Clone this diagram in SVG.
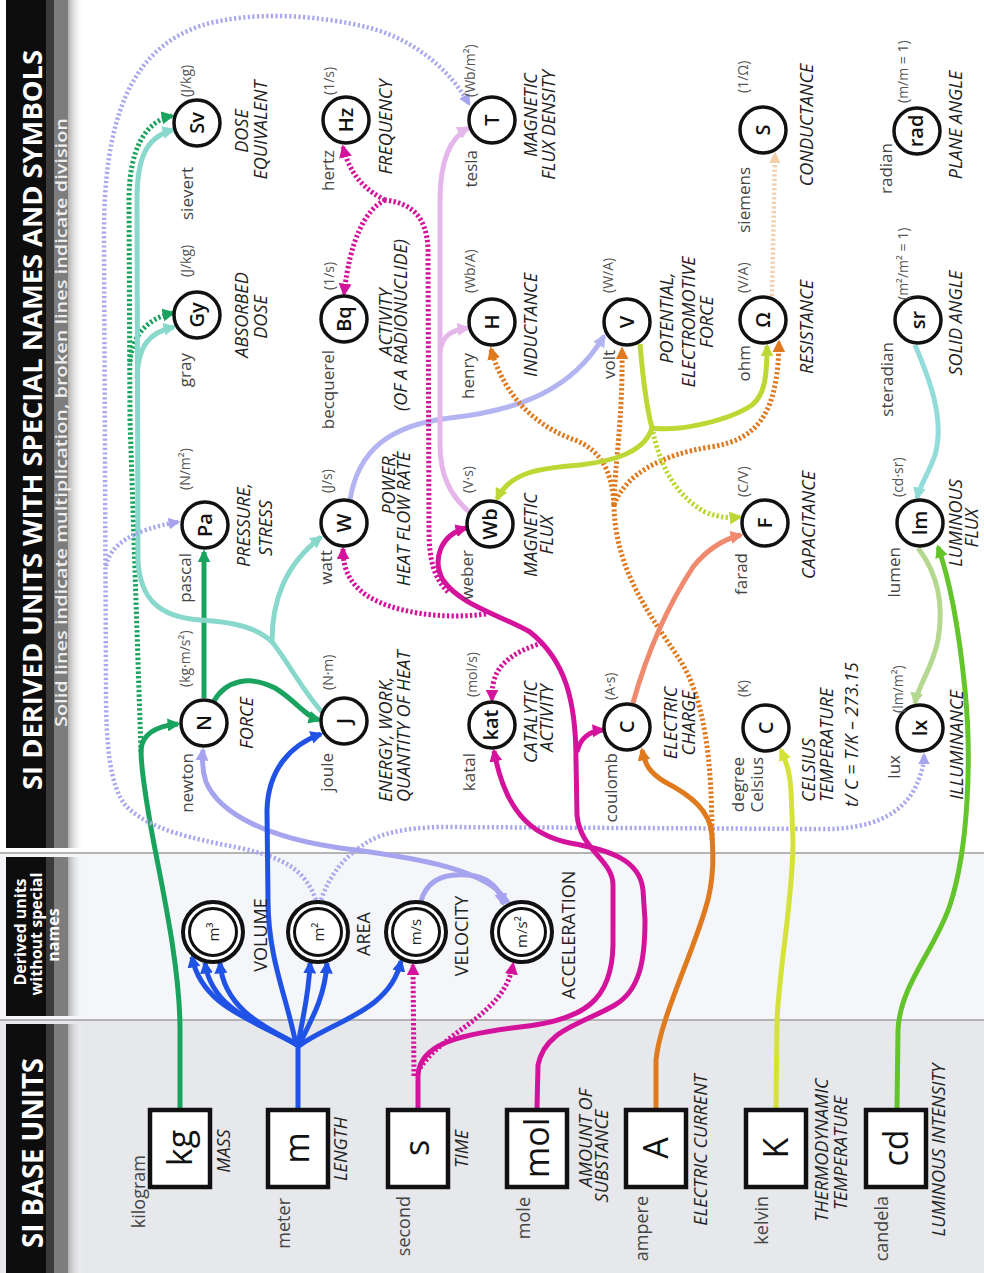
<svg xmlns="http://www.w3.org/2000/svg" width="984" height="1273" viewBox="0 0 984 1273">
<defs>
<style>
text{font-family:'Open Sans','Noto Sans','Liberation Sans',sans-serif}
.nm{font-size:17px;fill:#444;text-anchor:end}
.bn{font-size:18px;fill:#444;text-anchor:end}
.un{font-size:14px;fill:#555}
.q{font-size:18px;font-style:italic;fill:#222;text-anchor:middle}
.qs{font-size:18px;font-style:italic;fill:#222;text-anchor:start}
.qe{font-size:18px;font-style:italic;fill:#222;text-anchor:end}
.dq{font-size:18px;fill:#222;text-anchor:middle}
.sym{font-size:20px;fill:#111;text-anchor:middle;font-weight:600}
.bs{font-size:34px;fill:#111;text-anchor:middle}
.ds{font-size:15px;fill:#222;text-anchor:middle}
.hd{font-weight:700;fill:#fff}
.c{fill:#fff;stroke:#111;stroke-width:3.5}
.c2{fill:#fff;stroke:#111;stroke-width:4}
.c3{fill:none;stroke:#111;stroke-width:3}
.bx{fill:#fff;stroke:#111;stroke-width:4.5}
.ln{fill:none;stroke-width:5}
.dt{fill:none;stroke-width:5;stroke-dasharray:2.4 2.2}
.dl{fill:none;stroke-width:4.5;stroke-dasharray:2.2 2.4}
</style>
<linearGradient id="fade" x1="0" y1="0" x2="1" y2="0">
<stop offset="0" stop-color="#b0b0b0"/><stop offset="1" stop-color="#ffffff" stop-opacity="0"/>
</linearGradient>
<marker id="mg" viewBox="0 0 10 10" refX="8" refY="5" markerWidth="2.6" markerHeight="2.6" orient="auto"><path d="M0,0L10,5L0,10z" fill="#1aa35e"/></marker>
<marker id="mt" viewBox="0 0 10 10" refX="8" refY="5" markerWidth="2.6" markerHeight="2.6" orient="auto"><path d="M0,0L10,5L0,10z" fill="#88d8cb"/></marker>
<marker id="ml" viewBox="0 0 10 10" refX="8" refY="5" markerWidth="2.6" markerHeight="2.6" orient="auto"><path d="M0,0L10,5L0,10z" fill="#a6a4ee"/></marker>
<marker id="ml2" viewBox="0 0 10 10" refX="8" refY="5" markerWidth="2.6" markerHeight="2.6" orient="auto"><path d="M0,0L10,5L0,10z" fill="#b3b5f2"/></marker>
<marker id="mb" viewBox="0 0 10 10" refX="8" refY="5" markerWidth="2.6" markerHeight="2.6" orient="auto"><path d="M0,0L10,5L0,10z" fill="#2052e6"/></marker>
<marker id="mm" viewBox="0 0 10 10" refX="8" refY="5" markerWidth="2.6" markerHeight="2.6" orient="auto"><path d="M0,0L10,5L0,10z" fill="#d4139c"/></marker>
<marker id="mo" viewBox="0 0 10 10" refX="8" refY="5" markerWidth="2.6" markerHeight="2.6" orient="auto"><path d="M0,0L10,5L0,10z" fill="#e07a1f"/></marker>
<marker id="ms" viewBox="0 0 10 10" refX="8" refY="5" markerWidth="2.6" markerHeight="2.6" orient="auto"><path d="M0,0L10,5L0,10z" fill="#f08a6e"/></marker>
<marker id="my" viewBox="0 0 10 10" refX="8" refY="5" markerWidth="2.6" markerHeight="2.6" orient="auto"><path d="M0,0L10,5L0,10z" fill="#bdd834"/></marker>
<marker id="mp" viewBox="0 0 10 10" refX="8" refY="5" markerWidth="2.6" markerHeight="2.6" orient="auto"><path d="M0,0L10,5L0,10z" fill="#f2cfa8"/></marker>
<marker id="mk" viewBox="0 0 10 10" refX="8" refY="5" markerWidth="2.6" markerHeight="2.6" orient="auto"><path d="M0,0L10,5L0,10z" fill="#e5b6ea"/></marker>
<marker id="mi" viewBox="0 0 10 10" refX="8" refY="5" markerWidth="2.6" markerHeight="2.6" orient="auto"><path d="M0,0L10,5L0,10z" fill="#d5e23a"/></marker>
<marker id="mc" viewBox="0 0 10 10" refX="8" refY="5" markerWidth="2.6" markerHeight="2.6" orient="auto"><path d="M0,0L10,5L0,10z" fill="#63c52b"/></marker>
<marker id="mn" viewBox="0 0 10 10" refX="8" refY="5" markerWidth="2.6" markerHeight="2.6" orient="auto"><path d="M0,0L10,5L0,10z" fill="#b4d88f"/></marker>
<marker id="mq" viewBox="0 0 10 10" refX="8" refY="5" markerWidth="2.6" markerHeight="2.6" orient="auto"><path d="M0,0L10,5L0,10z" fill="#92dcd9"/></marker>
</defs>

<g id="background">
<rect x="0" y="0" width="984" height="1273" fill="#fff"/>
<rect x="0" y="853" width="984" height="167" fill="#f4f6f9"/>
<rect x="0" y="1020" width="984" height="253" fill="#e6e8eb"/>
<line x1="0" y1="853" x2="984" y2="853" stroke="#b4b4b4" stroke-width="2"/>
<line x1="0" y1="1020" x2="984" y2="1020" stroke="#b4b4b4" stroke-width="2"/>
</g>

<g id="headers">
<rect x="6" y="0" width="40" height="848" fill="#0d0d0d"/>
<rect x="46" y="0" width="8" height="848" fill="#3c3c3c"/>
<rect x="54" y="0" width="14" height="848" fill="#7d7d7d"/>
<rect x="68" y="0" width="16" height="848" fill="url(#fade)"/>
<rect x="6" y="857" width="40" height="159" fill="#0d0d0d"/>
<rect x="46" y="857" width="8" height="159" fill="#3c3c3c"/>
<rect x="54" y="857" width="14" height="159" fill="#7d7d7d"/>
<rect x="68" y="857" width="16" height="159" fill="url(#fade)"/>
<rect x="6" y="1024" width="40" height="249" fill="#0d0d0d"/>
<rect x="46" y="1024" width="8" height="249" fill="#3c3c3c"/>
<rect x="54" y="1024" width="14" height="249" fill="#7d7d7d"/>
<rect x="68" y="1024" width="16" height="249" fill="url(#fade)"/>
<text class="hd" font-size="27" transform="translate(42,790) rotate(-90)" textLength="740" lengthAdjust="spacingAndGlyphs">SI DERIVED UNITS WITH SPECIAL NAMES AND SYMBOLS</text>
<text font-size="17" font-weight="600" fill="#eeeeee" transform="translate(67,727) rotate(-90)" textLength="609" lengthAdjust="spacingAndGlyphs">Solid lines indicate multiplication, broken lines indicate division</text>
<text class="hd" font-size="28" transform="translate(43,1248) rotate(-90)" textLength="190" lengthAdjust="spacingAndGlyphs">SI BASE UNITS</text>
<text class="hd" font-size="16" text-anchor="middle" transform="translate(26,932) rotate(-90)">Derived units</text>
<text class="hd" font-size="16" text-anchor="middle" transform="translate(42,934) rotate(-90)">without special</text>
<text class="hd" font-size="16" text-anchor="middle" transform="translate(59,935) rotate(-90)">names</text>
</g>

<g id="connectors">
<path class="ln" stroke="#1aa35e" d="M180 1108 L180 1030 C180 960 158 870 150 822 C145 792 141 770 141 750 C142 735 155 726 178 724" marker-end="url(#mg)"/>
<path class="dt" stroke="#1aa35e" d="M141 752 L130 420 L129 200 C129 150 145 121 172 116" marker-end="url(#mg)"/>
<path class="dt" stroke="#1aa35e" d="M130 362 C132 335 148 318 173 313" marker-end="url(#mg)"/>
<path class="ln" stroke="#1aa35e" d="M204 698 L204 552" marker-end="url(#mg)"/>
<path class="ln" stroke="#1aa35e" d="M214 701 C226 680 250 675 275 688 C295 700 305 716 319 720" marker-end="url(#mg)"/>
<path class="ln" stroke="#88d8cb" d="M322 712 C302 690 287 660 272 642 C258 628 235 622 200 620 C160 617 140 600 138 560 L137 200 C137 160 145 137 173 130" marker-end="url(#mt)"/>
<path class="ln" stroke="#88d8cb" d="M137 378 C138 345 150 332 174 327" marker-end="url(#mt)"/>
<path class="ln" stroke="#88d8cb" d="M272 642 C272 600 285 565 321 537" marker-end="url(#mt)"/>
<path class="dl" stroke="#a9a7ee" d="M316 900 C305 870 285 858 240 848 C190 838 150 830 126 806 C109 786 106 740 106 690 L104 240 C103 120 130 50 200 26 C250 10 320 15 370 28 C415 40 450 70 469 104" marker-end="url(#ml)"/>
<path class="dl" stroke="#a9a7ee" d="M106 566 C110 545 132 530 178 522" marker-end="url(#ml)"/>
<path class="dl" stroke="#a9a7ee" d="M321 900 C330 874 345 856 366 843 C382 833 405 828 440 827 L820 829 C870 830 900 815 914 790 C921 776 924 765 924 755" marker-end="url(#ml)"/>
<path class="ln" stroke="#a6a4ee" d="M421 901 C428 876 450 872 475 876 C492 880 500 890 503 904" marker-end="url(#ml)"/>
<path class="ln" stroke="#a6a4ee" d="M508 903 C490 870 420 858 340 848 C270 838 220 815 206 782 C202 770 202 760 203 750" marker-end="url(#ml)"/>
<path class="ln" stroke="#b3b5f2" d="M350 500 C358 450 390 425 450 418 C520 410 572 390 604 336" marker-end="url(#ml2)"/>
<path class="ln" stroke="#2052e6" d="M298 1108 L298 1045"/>
<path class="ln" stroke="#2052e6" d="M297 1045 C262 1022 202 1010 192 957" marker-end="url(#mb)"/>
<path class="ln" stroke="#2052e6" d="M297 1045 C266 1026 212 1012 205 963" marker-end="url(#mb)"/>
<path class="ln" stroke="#2052e6" d="M298 1045 C272 1030 224 1012 220 963" marker-end="url(#mb)"/>
<path class="ln" stroke="#2052e6" d="M298 1045 C303 1015 309 995 310 963" marker-end="url(#mb)"/>
<path class="ln" stroke="#2052e6" d="M299 1045 C314 1015 325 995 327 963" marker-end="url(#mb)"/>
<path class="ln" stroke="#2052e6" d="M299 1046 C330 1022 390 1012 401 961" marker-end="url(#mb)"/>
<path class="ln" stroke="#2052e6" d="M296 1045 C288 1000 268 960 268 900 L267 810 C268 770 290 745 321 734" marker-end="url(#mb)"/>
<path class="ln" stroke="#d4139c" d="M418 1108 L418 1075 C420 1045 455 1035 520 1027 C585 1020 612 1000 613 945 L613 885 C613 860 580 850 577 815 L576 760 C576 700 565 660 530 632 C500 615 460 605 443 580 C432 560 440 535 466 528" marker-end="url(#mm)"/>
<path class="ln" stroke="#d4139c" d="M577 752 C580 738 590 731 603 730" marker-end="url(#mm)"/>
<path class="ln" stroke="#d4139c" d="M537 1108 L538 1065 C545 1030 580 1025 615 1005 C640 990 645 960 645 920 L643 890 C640 860 610 850 570 843 C530 835 505 810 494 751" marker-end="url(#mm)"/>
<path class="dt" stroke="#d4139c" d="M414 1076 L413 965" marker-end="url(#mm)"/>
<path class="dt" stroke="#d4139c" d="M420 1068 C445 1030 505 1015 513 964" marker-end="url(#mm)"/>
<path class="dt" stroke="#d4139c" d="M448 592 C434 578 429 560 429 530 L428 250 C427 215 410 203 385 200"/>
<path class="dt" stroke="#d4139c" d="M385 200 C365 190 350 175 343 147" marker-end="url(#mm)"/>
<path class="dt" stroke="#d4139c" d="M385 200 C365 210 350 240 344 294" marker-end="url(#mm)"/>
<path class="dt" stroke="#d4139c" d="M486 614 C440 620 392 612 366 595 C350 583 343 570 343 549" marker-end="url(#mm)"/>
<path class="dt" stroke="#d4139c" d="M542 643 C520 650 500 660 494 680 C492 688 492 694 492 700" marker-end="url(#mm)"/>
<path class="ln" stroke="#e07a1f" d="M656 1108 L656 1060 C660 1020 690 960 705 910 C715 880 713 850 712 835 C710 810 690 795 665 782 C650 773 645 765 642 750" marker-end="url(#mo)"/>
<path class="dt" stroke="#e07a1f" d="M712 840 C712 760 705 700 680 660 C650 615 615 570 614 505"/>
<path class="dt" stroke="#e07a1f" d="M614 505 C615 460 623 420 622 349" marker-end="url(#mo)"/>
<path class="dt" stroke="#e07a1f" d="M614 505 C612 470 600 450 575 440 C540 428 505 400 491 349" marker-end="url(#mo)"/>
<path class="dt" stroke="#e07a1f" d="M614 505 C625 475 660 455 710 447 C760 440 778 410 779 342" marker-end="url(#mo)"/>
<path class="ln" stroke="#f08a6e" d="M633 703 C645 660 665 610 693 567 C705 552 720 540 741 535" marker-end="url(#ms)"/>
<path class="ln" stroke="#bdd834" d="M640 344 C643 380 646 405 652 428"/>
<path class="ln" stroke="#bdd834" d="M652 428 C645 450 620 460 580 465 C540 468 510 472 497 499" marker-end="url(#my)"/>
<path class="ln" stroke="#bdd834" d="M652 428 C680 432 730 420 752 405 C765 395 767 375 767 346" marker-end="url(#my)"/>
<path class="dt" stroke="#bdd834" d="M653 432 C660 465 675 495 705 512 C720 518 730 518 740 517" marker-end="url(#my)"/>
<path class="dl" stroke="#f2cfa8" d="M772 296 L775 154" marker-end="url(#mp)"/>
<path class="ln" stroke="#e5b6ea" d="M469 512 C450 495 440 475 440 445 L440 200 C440 160 450 138 468 128" marker-end="url(#mk)"/>
<path class="ln" stroke="#e5b6ea" d="M440 352 C442 335 452 330 468 328" marker-end="url(#mk)"/>
<path class="ln" stroke="#d5e23a" d="M776 1108 L777 1020 C780 960 793 900 793 840 L791 790 C790 770 785 760 781 750" marker-end="url(#mi)"/>
<path class="ln" stroke="#63c52b" d="M897 1108 L898 1030 C900 985 935 950 950 905 C968 850 972 760 965 690 C958 620 948 575 938 547" marker-end="url(#mc)"/>
<path class="ln" stroke="#b4d88f" d="M918 548 C935 570 945 600 938 640 C932 670 918 685 915 703" marker-end="url(#mn)"/>
<path class="ln" stroke="#92dcd9" d="M915 345 C930 380 945 420 935 455 C928 475 920 485 917 498" marker-end="url(#mq)"/>
</g>

<g id="base-units">
<g id="n-kg"><rect class="bx" x="150" y="1110" width="60" height="77"/><text class="bs" transform="translate(192,1148) rotate(-90)">kg</text><text class="bn" transform="translate(145,1155) rotate(-90)">kilogram</text><text class="q" transform="translate(230,1151) rotate(-90)">MASS</text></g>
<g id="n-m"><rect class="bx" x="268" y="1110" width="60" height="77"/><text class="bs" transform="translate(309,1148) rotate(-90)">m</text><text class="bn" transform="translate(290,1198) rotate(-90)">meter</text><text class="q" transform="translate(347,1149) rotate(-90)">LENGTH</text></g>
<g id="n-s"><rect class="bx" x="388" y="1110" width="60" height="77"/><text class="bs" transform="translate(429,1148) rotate(-90)">s</text><text class="bn" transform="translate(410,1196) rotate(-90)">second</text><text class="q" transform="translate(468,1149) rotate(-90)">TIME</text></g>
<g id="n-mol"><rect class="bx" x="507" y="1110" width="60" height="77"/><text class="bs" transform="translate(549,1148) rotate(-90)">mol</text><text class="bn" transform="translate(530,1197) rotate(-90)">mole</text><text class="q" transform="translate(592,1138) rotate(-90)">AMOUNT OF</text><text class="q" transform="translate(608,1156) rotate(-90)">SUBSTANCE</text></g>
<g id="n-A"><rect class="bx" x="626" y="1110" width="60" height="77"/><text class="bs" transform="translate(668,1148) rotate(-90)">A</text><text class="bn" transform="translate(648,1196) rotate(-90)">ampere</text><text class="q" transform="translate(707,1150) rotate(-90)">ELECTRIC CURRENT</text></g>
<g id="n-K"><rect class="bx" x="746" y="1110" width="60" height="77"/><text class="bs" transform="translate(788,1148) rotate(-90)">K</text><text class="bn" transform="translate(768,1196) rotate(-90)">kelvin</text><text class="q" transform="translate(828,1150) rotate(-90)">THERMODYNAMIC</text><text class="q" transform="translate(847,1153) rotate(-90)">TEMPERATURE</text></g>
<g id="n-cd"><rect class="bx" x="866" y="1110" width="60" height="77"/><text class="bs" transform="translate(908,1148) rotate(-90)">cd</text><text class="bn" transform="translate(888,1196) rotate(-90)">candela</text><text class="q" transform="translate(945,1150) rotate(-90)">LUMINOUS INTENSITY</text></g>
</g>

<g id="derived-unnamed">
<g id="n-m3"><circle class="c2" cx="213" cy="932" r="30"/><circle class="c3" cx="213" cy="932" r="23.5"/><text class="ds" transform="translate(219,932) rotate(-90)">m³</text><text class="dq" transform="translate(267,935) rotate(-90)">VOLUME</text></g>
<g id="n-m2"><circle class="c2" cx="318" cy="932" r="30"/><circle class="c3" cx="318" cy="932" r="23.5"/><text class="ds" transform="translate(324,932) rotate(-90)">m²</text><text class="dq" transform="translate(370,934) rotate(-90)">AREA</text></g>
<g id="n-ms"><circle class="c2" cx="416" cy="932" r="30"/><circle class="c3" cx="416" cy="932" r="23.5"/><text class="ds" transform="translate(421,932) rotate(-90)">m/s</text><text class="dq" transform="translate(468,936) rotate(-90)">VELOCITY</text></g>
<g id="n-ms2"><circle class="c2" cx="522" cy="932" r="30"/><circle class="c3" cx="522" cy="932" r="23.5"/><text class="ds" transform="translate(527,932) rotate(-90)">m/s²</text><text class="dq" transform="translate(575,935) rotate(-90)">ACCELERATION</text></g>
</g>

<g id="derived-named">
<g id="n-Sv"><circle class="c" cx="197" cy="123" r="23"/><text class="sym" transform="translate(204,123) rotate(-90)">Sv</text><text class="nm" transform="translate(193,167) rotate(-90)">sievert</text><text class="un" transform="translate(191,97) rotate(-90)">(J/kg)</text><text class="q" transform="translate(248,131) rotate(-90)">DOSE</text><text class="q" transform="translate(267,130) rotate(-90)">EQUIVALENT</text></g>
<g id="n-Gy"><circle class="c" cx="197" cy="315" r="23"/><text class="sym" transform="translate(204,315) rotate(-90)">Gy</text><text class="nm" transform="translate(191,353) rotate(-90)">gray</text><text class="un" transform="translate(191,277) rotate(-90)">(J/kg)</text><text class="q" transform="translate(248,315) rotate(-90)">ABSORBED</text><text class="q" transform="translate(267,317) rotate(-90)">DOSE</text></g>
<g id="n-Pa"><circle class="c" cx="205" cy="525" r="23"/><text class="sym" transform="translate(212,525) rotate(-90)">Pa</text><text class="nm" transform="translate(191,553) rotate(-90)">pascal</text><text class="un" transform="translate(190,490) rotate(-90)">(N/m²)</text><text class="q" transform="translate(250,525) rotate(-90)">PRESSURE,</text><text class="q" transform="translate(272,528) rotate(-90)">STRESS</text></g>
<g id="n-N"><circle class="c" cx="204" cy="723" r="23"/><text class="sym" transform="translate(211,723) rotate(-90)">N</text><text class="nm" transform="translate(193,753) rotate(-90)">newton</text><text class="un" transform="translate(190,687) rotate(-90)">(kg·m/s²)</text><text class="q" transform="translate(253,723) rotate(-90)">FORCE</text></g>
<g id="n-Hz"><circle class="c" cx="346" cy="120" r="23"/><text class="sym" transform="translate(353,120) rotate(-90)">Hz</text><text class="nm" transform="translate(334,150) rotate(-90)">hertz</text><text class="un" transform="translate(334,95) rotate(-90)">(1/s)</text><text class="q" transform="translate(392,127) rotate(-90)">FREQUENCY</text></g>
<g id="n-Bq"><circle class="c" cx="344" cy="319" r="23"/><text class="sym" transform="translate(351,319) rotate(-90)">Bq</text><text class="nm" transform="translate(334,350) rotate(-90)">becquerel</text><text class="un" transform="translate(334,290) rotate(-90)">(1/s)</text><text class="q" transform="translate(392,322) rotate(-90)">ACTIVITY</text><text class="q" font-size="10.5" transform="translate(407,325) rotate(-90)">(OF A RADIONUCLIDE)</text></g>
<g id="n-W"><circle class="c" cx="344" cy="523" r="23"/><text class="sym" transform="translate(351,523) rotate(-90)">W</text><text class="nm" transform="translate(332,550) rotate(-90)">watt</text><text class="un" transform="translate(332,493) rotate(-90)">(J/s)</text><text class="qe" transform="translate(395,452) rotate(-90)">POWER,</text><text class="qe" transform="translate(410,452) rotate(-90)">HEAT FLOW RATE</text></g>
<g id="n-J"><circle class="c" cx="344" cy="721" r="23"/><text class="sym" transform="translate(351,721) rotate(-90)">J</text><text class="nm" transform="translate(333,753) rotate(-90)">joule</text><text class="un" transform="translate(333,690) rotate(-90)">(N·m)</text><text class="qs" transform="translate(392,802) rotate(-90)">ENERGY, WORK,</text><text class="qs" transform="translate(410,802) rotate(-90)">QUANTITY OF HEAT</text></g>
<g id="n-T"><circle class="c" cx="492" cy="120" r="23"/><text class="sym" transform="translate(499,120) rotate(-90)">T</text><text class="nm" transform="translate(477,150) rotate(-90)">tesla</text><text class="un" transform="translate(475,97) rotate(-90)">(Wb/m²)</text><text class="q" transform="translate(537,115) rotate(-90)">MAGNETIC</text><text class="q" transform="translate(555,125) rotate(-90)">FLUX DENSITY</text></g>
<g id="n-H"><circle class="c" cx="492" cy="322" r="23"/><text class="sym" transform="translate(499,322) rotate(-90)">H</text><text class="nm" transform="translate(474,353) rotate(-90)">henry</text><text class="un" transform="translate(475,293) rotate(-90)">(Wb/A)</text><text class="q" transform="translate(537,325) rotate(-90)">INDUCTANCE</text></g>
<g id="n-Wb"><circle class="c" cx="490" cy="524" r="23"/><text class="sym" transform="translate(497,524) rotate(-90)">Wb</text><text class="nm" transform="translate(473,550) rotate(-90)">weber</text><text class="un" transform="translate(473,493) rotate(-90)">(V·s)</text><text class="q" transform="translate(537,535) rotate(-90)">MAGNETIC</text><text class="q" transform="translate(553,535) rotate(-90)">FLUX</text></g>
<g id="n-kat"><circle class="c" cx="492" cy="725" r="23"/><text class="sym" font-size="18" transform="translate(498,725) rotate(-90)">kat</text><text class="nm" transform="translate(475,753) rotate(-90)">katal</text><text class="un" transform="translate(477,697) rotate(-90)">(mol/s)</text><text class="q" transform="translate(537,722) rotate(-90)">CATALYTIC</text><text class="q" transform="translate(553,718) rotate(-90)">ACTIVITY</text></g>
<g id="n-V"><circle class="c" cx="627" cy="322" r="23"/><text class="sym" transform="translate(634,322) rotate(-90)">V</text><text class="nm" transform="translate(615,350) rotate(-90)">volt</text><text class="un" transform="translate(613,293) rotate(-90)">(W/A)</text><text class="q" transform="translate(673,318) rotate(-90)">POTENTIAL,</text><text class="q" transform="translate(695,322) rotate(-90)">ELECTROMOTIVE</text><text class="q" transform="translate(713,322) rotate(-90)">FORCE</text></g>
<g id="n-C"><circle class="c" cx="627" cy="727" r="23"/><text class="sym" transform="translate(634,727) rotate(-90)">C</text><text class="nm" transform="translate(617,753) rotate(-90)">coulomb</text><text class="un" transform="translate(615,700) rotate(-90)">(A·s)</text><text class="q" transform="translate(677,723) rotate(-90)">ELECTRIC</text><text class="q" transform="translate(695,723) rotate(-90)">CHARGE</text></g>
<g id="n-S"><circle class="c" cx="763" cy="130" r="23"/><text class="sym" transform="translate(770,130) rotate(-90)">S</text><text class="nm" transform="translate(750,167) rotate(-90)">siemens</text><text class="un" transform="translate(748,93) rotate(-90)">(1/Ω)</text><text class="q" transform="translate(813,125) rotate(-90)">CONDUCTANCE</text></g>
<g id="n-ohm"><circle class="c" cx="763" cy="320" r="23"/><text class="sym" transform="translate(770,320) rotate(-90)">Ω</text><text class="nm" transform="translate(750,345) rotate(-90)">ohm</text><text class="un" transform="translate(748,293) rotate(-90)">(V/A)</text><text class="q" transform="translate(813,327) rotate(-90)">RESISTANCE</text></g>
<g id="n-F"><circle class="c" cx="765" cy="523" r="23"/><text class="sym" transform="translate(772,523) rotate(-90)">F</text><text class="nm" transform="translate(747,553) rotate(-90)">farad</text><text class="un" transform="translate(748,497) rotate(-90)">(C/V)</text><text class="q" transform="translate(815,525) rotate(-90)">CAPACITANCE</text></g>
<g id="n-degC"><circle class="c" cx="766" cy="728" r="23"/><text class="sym" transform="translate(773,728) rotate(-90)">C</text><text class="nm" transform="translate(744,757) rotate(-90)">degree</text><text class="nm" transform="translate(763,757) rotate(-90)">Celsius</text><text class="un" transform="translate(748,697) rotate(-90)">(K)</text><text class="qs" transform="translate(815,802) rotate(-90)">CELSIUS</text><text class="qs" transform="translate(833,802) rotate(-90)">TEMPERATURE</text><text class="qs" transform="translate(858,807) rotate(-90)">t/ C = T/K – 273.15</text></g>
<g id="n-rad"><circle class="c" cx="917" cy="131" r="23"/><text class="sym" font-size="18" transform="translate(923,131) rotate(-90)">rad</text><text class="nm" transform="translate(892,143) rotate(-90)">radian</text><text class="un" transform="translate(908,103) rotate(-90)">(m/m = 1)</text><text class="q" transform="translate(962,125) rotate(-90)">PLANE ANGLE</text></g>
<g id="n-sr"><circle class="c" cx="918" cy="320" r="23"/><text class="sym" transform="translate(925,320) rotate(-90)">sr</text><text class="nm" transform="translate(893,342) rotate(-90)">steradian</text><text class="un" transform="translate(908,300) rotate(-90)">(m²/m² = 1)</text><text class="q" transform="translate(962,323) rotate(-90)">SOLID ANGLE</text></g>
<g id="n-lm"><circle class="c" cx="920" cy="523" r="23"/><text class="sym" transform="translate(927,523) rotate(-90)">lm</text><text class="nm" transform="translate(900,547) rotate(-90)">lumen</text><text class="un" transform="translate(903,497) rotate(-90)">(cd·sr)</text><text class="q" transform="translate(962,523) rotate(-90)">LUMINOUS</text><text class="q" transform="translate(978,528) rotate(-90)">FLUX</text></g>
<g id="n-lx"><circle class="c" cx="920" cy="728" r="23"/><text class="sym" transform="translate(927,728) rotate(-90)">lx</text><text class="nm" transform="translate(900,755) rotate(-90)">lux</text><text class="un" transform="translate(903,713) rotate(-90)">(lm/m²)</text><text class="q" transform="translate(963,745) rotate(-90)">ILLUMINANCE</text></g>
</g>
</svg>
